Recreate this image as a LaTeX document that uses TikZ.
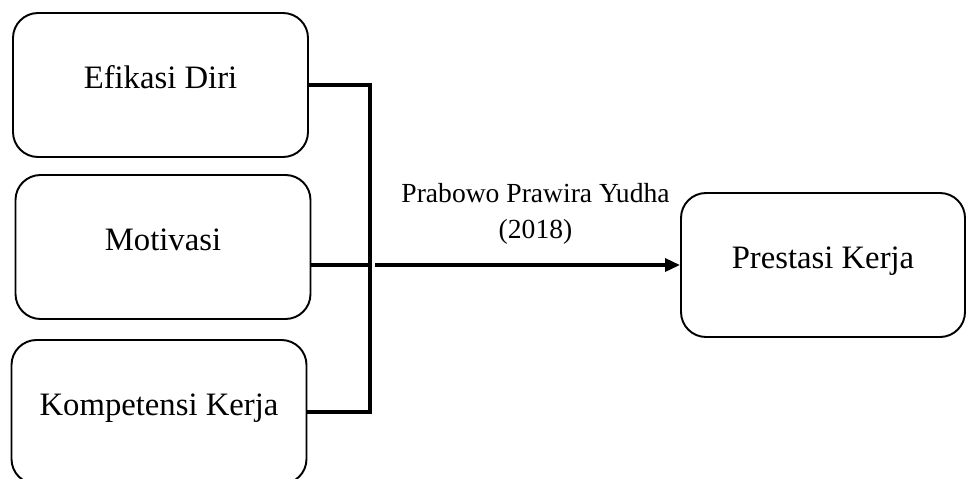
\documentclass[tikz,border=0pt]{standalone}
\usepackage{fontspec}
\setmainfont{Liberation Serif}
\usepackage{tikz}
\usetikzlibrary{arrows.meta,calc,positioning,shapes}
\tikzset{%
	varbox/.style   = {draw, rectangle, rounded corners=0.5cm, line width=1.1pt, minimum width=5.9cm, minimum height=2.88cm, text height=0.45cm, text depth=0.31cm, font=\fontsize{18.6}{22}\selectfont}, % Variable
	conn/.style     = {line width=1.9pt}, % Connector
	arrow/.style    = {conn, -{Triangle[length=0.3cm,width=0.26cm]}},
	note/.style     = {align=center, font=\fontsize{15.7}{20.5}\selectfont},
}

\begin{document}
\begin{tikzpicture}[node distance = 3.24cm]
	\useasboundingbox (0,0) rectangle (19.36,-9.58);
		\node[varbox] (e) at (3.21,-1.70) {Efikasi Diri};
		\node[varbox,below of=e,xshift=0.05cm] (m) {Motivasi};
		\node[varbox,below of=m,node distance=3.3cm,xshift=-0.08cm] (k) {Kompetensi Kerja};
		\node[varbox,right of=m,node distance=13.2cm,yshift=-0.36cm,minimum width=5.68cm] (p) {Prestasi Kerja};
		\coordinate (bus) at (7.4,0);
		\draw[conn] (e.east) -- (e.east -| bus) -- (k.east -| bus) -- (k.east);
		\draw[conn] (m.east |- p.west) -- (bus |- p.west);
		\draw[arrow] ([xshift=0.1cm]bus |- p.west) -- node[note,above=0.26cm,xshift=0.16cm] {Prabowo Prawira Yudha\\(2018)} (p.west);
	\end{tikzpicture}
\end{document}
